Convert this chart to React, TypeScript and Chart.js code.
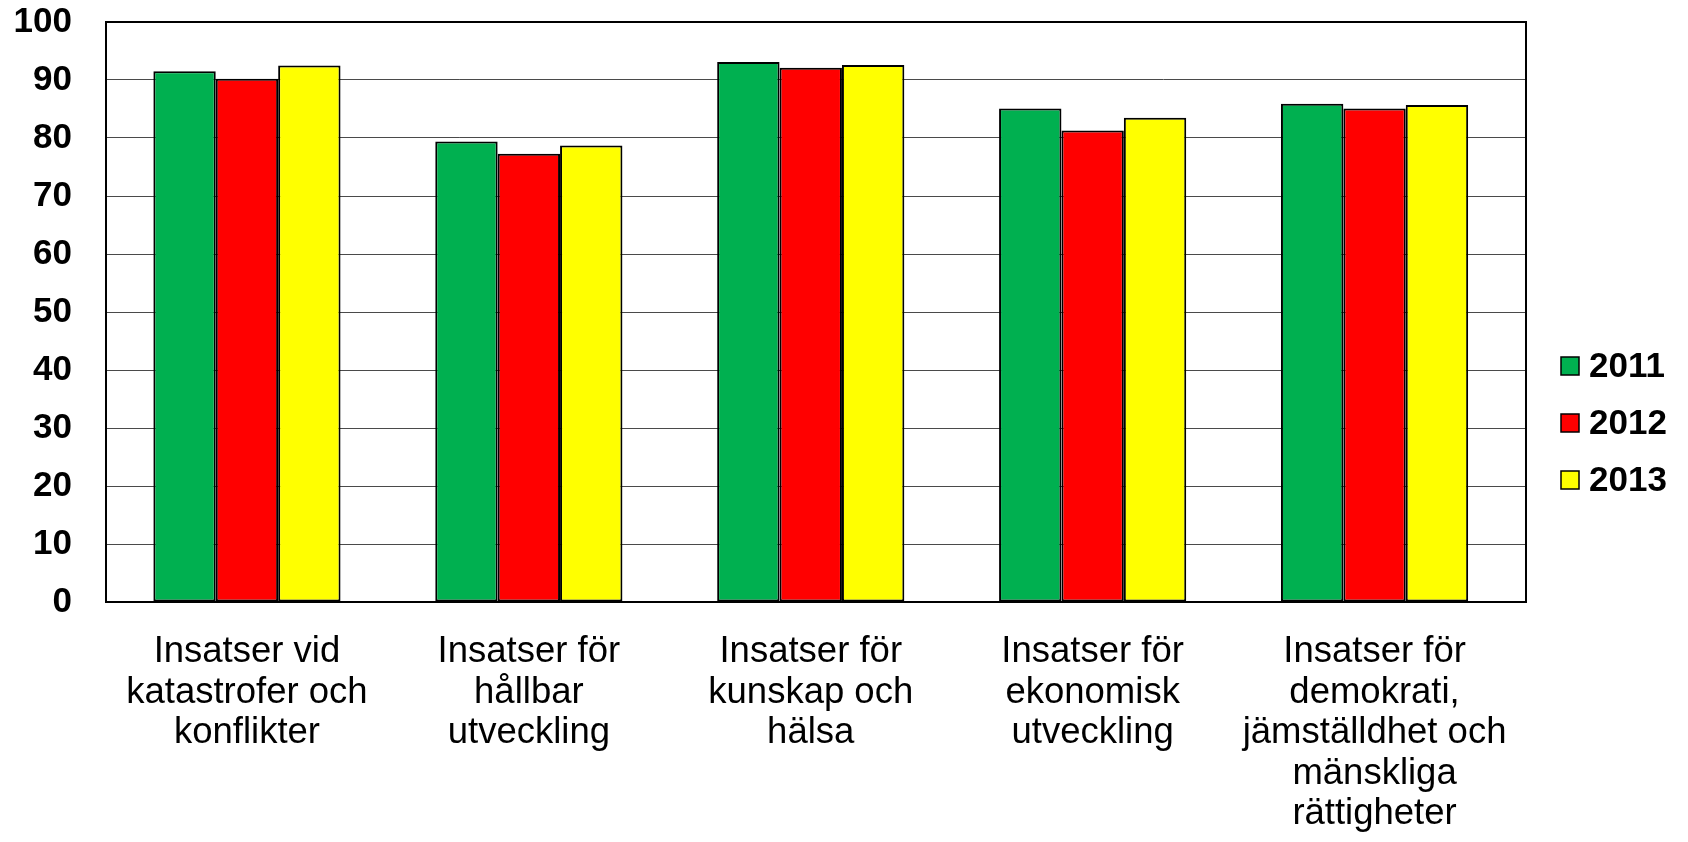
import React, { useEffect, useRef } from "react";
import { Chart, registerables } from "chart.js";

Chart.register(...registerables);

const categories: string[][] = [
  ["Insatser vid", "katastrofer och", "konflikter"],
  ["Insatser för", "hållbar", "utveckling"],
  ["Insatser för", "kunskap och", "hälsa"],
  ["Insatser för", "ekonomisk", "utveckling"],
  ["Insatser för", "demokrati,", "jämställdhet och", "mänskliga", "rättigheter"],
];

const seriesNames = ["2011", "2012", "2013"];
const values2011 = [91.5, 79.4, 93.1, 85.1, 85.9];
const values2012 = [90.2, 77.3, 92.1, 81.3, 85.1];
const values2013 = [92.5, 78.7, 92.6, 83.5, 85.7];
const seriesColors = ["#00B050", "#FF0000", "#FFFF00"];

const yMin = 0;
const yMax = 100;
const yStep = 10;

const FONT = "'Liberation Sans', Arial, sans-serif";
const FRAME_EXTRA = 10.5;
const GRID_COLOR = "#4a4a4a";

const frameAndLegend = {
  id: "frameAndLegend",
  beforeDatasetsDraw(chart: any) {
    const { ctx, chartArea, scales } = chart;
    ctx.save();
    ctx.strokeStyle = GRID_COLOR;
    ctx.lineWidth = 1;
    scales.y.ticks.forEach((t: any) => {
      const y = Math.round(scales.y.getPixelForValue(t.value) - 0.5) + 0.5;
      ctx.beginPath();
      ctx.moveTo(chartArea.right - 1, y);
      ctx.lineTo(chartArea.right + FRAME_EXTRA, y);
      ctx.stroke();
    });
    ctx.restore();
  },
  afterDraw(chart: any) {
    const { ctx, chartArea } = chart;
    ctx.save();
    ctx.strokeStyle = "#000";
    ctx.lineWidth = 2;
    const right = chartArea.right + FRAME_EXTRA;
    ctx.strokeRect(chartArea.left, chartArea.top, right - chartArea.left, chartArea.bottom - chartArea.top);

    // legend
    const ds = chart.data.datasets;
    const boxSize = 18;
    const boxX = right + 35;
    const centerY = chart.height / 2 + 2;
    const spacing = 57;
    ctx.font = `bold 35px ${FONT}`;
    ctx.textBaseline = "middle";
    ctx.textAlign = "left";
    ds.forEach((d: any, i: number) => {
      const cy = centerY + (i - (ds.length - 1) / 2) * spacing;
      ctx.fillStyle = d.backgroundColor;
      ctx.fillRect(boxX, cy - boxSize / 2, boxSize, boxSize);
      ctx.lineWidth = 1.5;
      ctx.strokeStyle = "#000";
      ctx.strokeRect(boxX, cy - boxSize / 2, boxSize, boxSize);
      ctx.fillStyle = "#000";
      ctx.fillText(d.label, boxX + boxSize + 10, cy + 1);
    });
    ctx.restore();
  },
};

export default function App() {
  const canvasRef = useRef<HTMLCanvasElement | null>(null);

  useEffect(() => {
    if (!canvasRef.current) return;
    const allValues = [values2011, values2012, values2013];
    const chart = new Chart(canvasRef.current, {
      type: "bar",
      data: {
        labels: categories,
        datasets: seriesNames.map((name, i) => ({
          label: name,
          data: allValues[i],
          backgroundColor: seriesColors[i],
          borderColor: "#000",
          borderWidth: 2,
          borderSkipped: false,
          categoryPercentage: 0.664,
          barPercentage: 1.0,
        })),
      },
      options: {
        responsive: false,
        animation: false,
        devicePixelRatio: 1,
        layout: { padding: { top: 22, right: 162 + FRAME_EXTRA, bottom: 0, left: 0 } },
        plugins: {
          legend: { display: false },
          tooltip: { enabled: false },
        },
        scales: {
          x: {
            grid: { display: false, drawTicks: false },
            border: { display: true, color: "#000", width: 2 },
            ticks: {
              color: "#000",
              padding: 30,
              maxRotation: 0,
              autoSkip: false,
              font: { family: FONT, size: 36.5, lineHeight: 1.11 },
            },
            afterFit(scale: any) {
              scale.height = 240;
            },
          },
          y: {
            min: yMin,
            max: yMax,
            ticks: {
              stepSize: yStep,
              color: "#000",
              padding: 0,
              font: { family: FONT, size: 35, weight: "bold" },
            },
            grid: { color: GRID_COLOR, lineWidth: 1, drawTicks: true, tickLength: 34, tickColor: "rgba(0,0,0,0)" },
            border: { display: true, color: "#000", width: 2 },
            afterFit(scale: any) {
              scale.width = 106;
            },
          },
        },
      },
      plugins: [frameAndLegend],
    });
    return () => chart.destroy();
  }, []);

  return (
    <div style={{ position: "fixed", left: 0, top: 0, width: 1688, height: 842, background: "#fff" }}>
      <canvas ref={canvasRef} width={1688} height={842} style={{ display: "block" }} />
    </div>
  );
}
